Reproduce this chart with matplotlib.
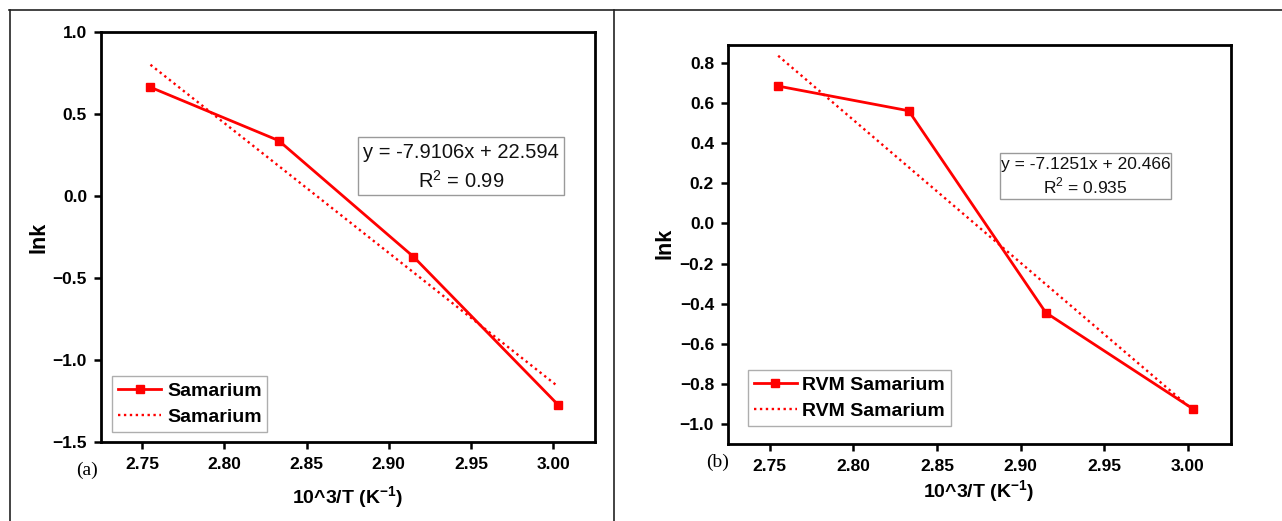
import matplotlib
matplotlib.use("Agg")
import matplotlib.pyplot as plt
from matplotlib.lines import Line2D
from matplotlib.patches import Rectangle
import numpy as np

plt.rcParams['font.family'] = ['Liberation Sans', 'DejaVu Sans']
plt.rcParams['mathtext.fontset'] = 'custom'
plt.rcParams['mathtext.rm'] = 'Liberation Sans'
plt.rcParams['mathtext.bf'] = 'Liberation Sans:bold'

# ---- data ----
x_a = [2.755, 2.833, 2.915, 3.003]
y_a = [0.663, 0.338, -0.370, -1.273]
fit_a = (-7.9106, 22.594)
eq_a = ["y = -7.9106x + 22.594", "R$^2$ = 0.99"]
label_a = "Samarium"
xticks = [2.75, 2.80, 2.85, 2.90, 2.95, 3.00]
yticks_a = [1.0, 0.5, 0.0, -0.5, -1.0, -1.5]

x_b = [2.755, 2.833, 2.915, 3.003]
y_b = [0.685, 0.562, -0.445, -0.925]
fit_b = (-7.1251, 20.466)
eq_b = ["y = -7.1251x + 20.466", "R$^2$ = 0.935"]
label_b = "RVM Samarium"
yticks_b = [0.8, 0.6, 0.4, 0.2, 0.0, -0.2, -0.4, -0.6, -0.8, -1.0]

W, H = 1282, 521
fig = plt.figure(figsize=(W / 100, H / 100), dpi=100)
fig.patch.set_facecolor('white')

def fx(px):
    return px / W

def fy(py):
    return 1 - py / H

def rect(l, t, r, b):
    return [fx(l), fy(b), fx(r) - fx(l), fy(t) - fy(b)]

# outer frame lines
frame_kw = dict(color='#222222', lw=1.2, transform=fig.transFigure)
fig.add_artist(Line2D([fx(9), 1.0], [fy(10), fy(10)], **frame_kw))
fig.add_artist(Line2D([fx(9.5), fx(9.5)], [fy(10), 0], **frame_kw))
fig.add_artist(Line2D([fx(614), fx(614)], [fy(10), 0], **frame_kw))

red = '#ff0000'

def setup(ax, xlim, ylim, yticks, yfmt):
    ax.set_xlim(*xlim)
    ax.set_ylim(*ylim)
    ax.set_xticks(xticks)
    ax.set_xticklabels([f"{v:.2f}" for v in xticks])
    ax.set_yticks(yticks)
    ax.set_yticklabels([(yfmt.format(v)).replace('-', '\u2212') if v != 0 else yfmt.format(0.0) for v in yticks])
    for s in ax.spines.values():
        s.set_linewidth(2.0)
        s.set_color('black')
    ax.tick_params(axis='both', which='major', direction='out', length=5, width=1.8,
                   top=False, right=False, labelsize=12.5, colors='black')
    ax.tick_params(axis='x', pad=6)
    ax.tick_params(axis='y', pad=5)
    for lab in ax.get_xticklabels() + ax.get_yticklabels():
        lab.set_fontweight('bold')

def panel(ax, xs, ys, fit, label, eq, box, lines_y, leg_anchor, eq_size):
    ax.plot(xs, ys, color=red, lw=2.0, marker='s', markersize=6, label=label)
    fx0, fx1 = xs[0], xs[-1]
    ax.plot([fx0, fx1], [fit[0] * fx0 + fit[1], fit[0] * fx1 + fit[1]],
            color=red, lw=1.7, linestyle=(0, (1, 1.5)), label=label)
    l, t, r, b = box
    fig.add_artist(Rectangle((fx(l), fy(b)), fx(r) - fx(l), fy(t) - fy(b),
                             transform=fig.transFigure, facecolor='white',
                             edgecolor='#9a9a9a', lw=1.0))
    cx = (l + r) / 2
    for txt, yy in zip(eq, lines_y):
        fig.text(fx(cx), fy(yy), txt, ha='center', va='center', fontsize=eq_size, color='#111111')
    leg = ax.legend(loc='lower left', bbox_to_anchor=leg_anchor, bbox_transform=fig.transFigure,
                    borderaxespad=0, frameon=True, fancybox=False, edgecolor='#9a9a9a',
                    prop={'weight': 'bold', 'size': 14}, handlelength=2.2, handletextpad=0.3,
                    borderpad=0.3, labelspacing=0.45)
    leg.get_frame().set_linewidth(1.0)

# panel (a)
ax_a = fig.add_axes(rect(101, 32, 595, 442))
setup(ax_a, (2.7249, 3.0255), (-1.5, 1.0), yticks_a, "{:.1f}")
panel(ax_a, x_a, y_a, fit_a, label_a, eq_a, (358, 137, 564, 195), (153, 181),
      (fx(112.5), fy(432)), 14.5)

# panel (b)
ax_b = fig.add_axes(rect(728, 45, 1231, 444))
setup(ax_b, (2.725, 3.0257), (-1.1, 0.89), yticks_b, "{:.1f}")
panel(ax_b, x_b, y_b, fit_b, label_b, eq_b, (1000, 153, 1171, 199), (164, 186),
      (fx(748), fy(426)), 12.5)

# axis labels
xlab = r"10^3/T (K$^{\mathbf{-1}}$)"
fig.text(fx(348), fy(498), xlab, ha='center', va='center', fontsize=14, fontweight='bold')
fig.text(fx(979), fy(492), xlab, ha='center', va='center', fontsize=14, fontweight='bold')
fig.text(fx(39), fy(237), "lnk", ha='center', va='center', rotation=90, fontsize=15.5, fontweight='bold')
fig.text(fx(665), fy(243), "lnk", ha='center', va='center', rotation=90, fontsize=15.5, fontweight='bold')

# panel letters
fig.text(fx(87), fy(470), "(a)", ha='center', va='center', fontsize=14,
         family=['Liberation Serif', 'DejaVu Serif'])
fig.text(fx(718), fy(462), "(b)", ha='center', va='center', fontsize=14,
         family=['Liberation Serif', 'DejaVu Serif'])

fig.savefig("out.png", dpi=100, facecolor='white')
